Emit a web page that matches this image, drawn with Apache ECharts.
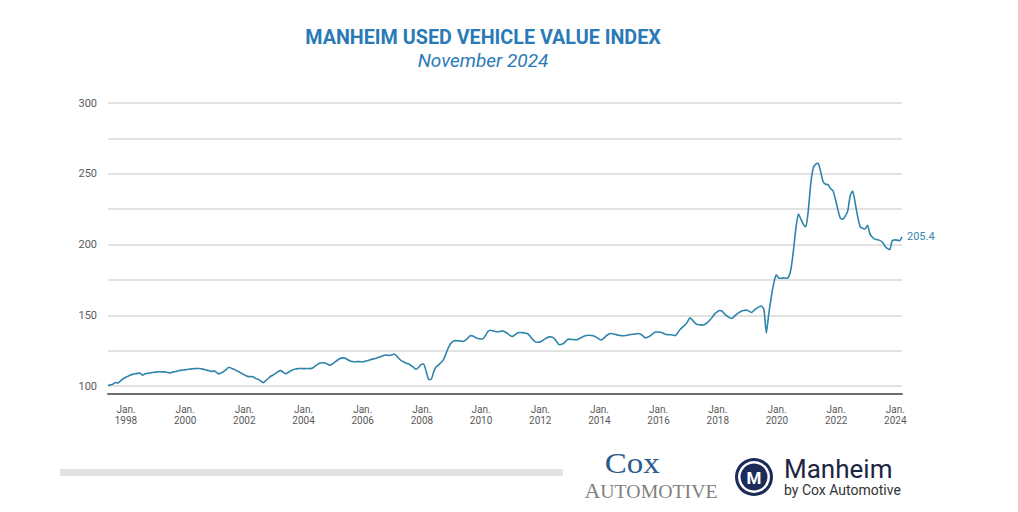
<!DOCTYPE html>
<html><head><meta charset="utf-8">
<script src="https://cdn.jsdelivr.net/npm/echarts@6/dist/echarts.min.js"></script>
<style>html,body{margin:0;padding:0;background:#fff}#c{width:1018px;height:512px}</style>
</head><body><div id="c"></div>
<script>
const startYear = 1998;
const idx1998_2002 = [
  100.4, 100.8, 101.3, 102.5, 102.2, 103.4, 105.1, 106.0, 106.8, 107.7, 108.2, 108.6,
  108.9, 109.1, 107.6, 108.6, 108.9, 109.2, 109.5, 109.7, 110.0, 110.1, 109.9, 110.0,
  109.6, 109.2, 109.7, 110.1, 110.5, 110.9, 111.2, 111.4, 111.7, 111.9, 112.1, 112.3,
  112.4, 112.4, 112.1, 111.7, 111.2, 110.8, 110.2, 110.7, 109.6, 108.5, 109.4, 110.3,
  111.8, 113.3, 112.6, 111.9, 111.0, 110.1, 109.1, 108.2, 107.2, 106.6, 106.7, 106.3
];
const idx2003_2007 = [
  105.2, 104.6, 103.5, 102.4, 103.8, 105.3, 106.9, 107.8, 108.9, 110.2, 110.9, 109.8,
  108.6, 109.5, 110.6, 111.5, 112.0, 112.3, 112.4, 112.3, 112.3, 112.4, 112.3, 112.7,
  114.0, 115.3, 116.3, 116.4, 116.2, 115.5, 114.7, 115.6, 116.9, 118.2, 119.4, 119.9,
  119.7, 118.8, 117.9, 117.3, 117.1, 117.2, 117.2, 117.0, 117.3, 117.9, 118.3, 119.0,
  119.3, 119.8, 120.4, 121.0, 121.7, 121.8, 121.6, 121.9, 122.6, 121.3, 119.4, 117.8
];
const idx2008_2012 = [
  117.0, 116.1, 115.5, 114.3, 113.0, 111.8, 113.3, 115.3, 115.6, 110.5, 104.8, 104.6,
  109.5, 113.4, 114.8, 116.5, 118.5, 122.5, 127.0, 130.0, 131.7, 132.1, 131.9, 131.8,
  131.5, 132.4, 133.9, 135.6, 135.4, 134.3, 133.5, 133.2, 133.2, 135.5, 138.3, 139.4,
  139.0, 138.5, 138.3, 138.6, 139.0, 138.2, 137.2, 135.8, 135.0, 136.1, 137.4, 137.8,
  137.7, 137.5, 137.1, 135.6, 133.4, 131.6, 130.9, 131.0, 131.8, 133.0, 134.1, 134.7
];
const idx2013_2017 = [
  134.6, 133.6, 131.3, 129.2, 129.5, 130.5, 132.3, 133.1, 132.9, 132.8, 132.7, 133.4,
  134.3, 135.1, 135.7, 135.9, 135.7, 135.4, 134.5, 133.3, 132.5, 133.6, 135.4, 136.6,
  137.1, 136.8, 136.3, 135.9, 135.6, 135.5, 135.7, 136.0, 136.4, 136.6, 136.8, 137.1,
  136.6, 135.3, 133.9, 134.6, 135.6, 137.0, 138.1, 138.2, 138.0, 137.4, 136.6, 136.3,
  136.2, 136.1, 135.6, 137.5, 139.9, 141.6, 143.1, 145.3, 148.2, 146.6, 144.6, 143.4
];
const idx2018_2021 = [
  143.3, 143.0, 143.5, 144.8, 146.5, 148.5, 151.0, 152.3, 153.4, 153.0, 151.0, 149.5,
  148.3, 147.8, 149.2, 150.8, 152.0, 153.0, 153.4, 153.7, 152.8, 151.9, 153.5, 154.8,
  155.9, 156.5, 154.2, 137.4, 151.5, 163.0, 172.5, 178.5, 176.3, 176.1, 176.4, 176.2,
  177.0, 183.0, 196.0, 212.0, 221.5, 218.0, 214.2, 212.5, 224.0, 243.0, 254.0, 256.8
];
const idx2022_2024 = [
  257.4, 251.5, 244.5, 242.6, 242.3, 239.6, 238.0, 232.0, 224.5, 218.6, 217.8, 220.0,
  223.8, 234.5, 237.8, 229.5, 220.0, 212.6, 211.5, 211.0, 213.6, 207.5, 205.1, 203.8,
  203.4, 202.9, 201.8, 199.0, 197.2, 196.3, 202.5, 203.3, 203.1, 202.7, 205.4
];
const yLabelStep = 50;
const titleText = 'MANHEIM USED VEHICLE VALUE INDEX';
const subtitleText = 'November 2024';

const values = [].concat(idx1998_2002, idx2003_2007, idx2008_2012, idx2013_2017, idx2018_2021, idx2022_2024);
const categories = values.map((_, i) => (startYear + Math.floor(i / 12)) + '-' + String(i % 12 + 1).padStart(2, '0'));

const chart = echarts.init(document.getElementById('c'), null, {renderer: 'svg'});
chart.setOption({
  animation: false,
  backgroundColor: '#fff',
  grid: {left: 108, right: 116, top: 103, bottom: 126},
  xAxis: {
    type: 'category', data: categories, boundaryGap: false, offset: 8,
    axisLine: {onZero: false, lineStyle: {color: '#6e6e6e', width: 2}},
    axisTick: {show: false},
    splitLine: {show: false},
    axisLabel: {
      interval: (i, v) => v.endsWith('-01') && (+v.slice(0, 4)) % 2 === 0,
      formatter: v => 'Jan.\n' + v.slice(0, 4),
      color: '#5a5a5a', fontSize: 10, lineHeight: 11, margin: 10,
      fontFamily: 'Roboto', padding: [0, 0, 0, 36]
    }
  },
  yAxis: {
    type: 'value', min: 100, max: 300, interval: 25,
    axisLine: {show: false}, axisTick: {show: false},
    splitLine: {lineStyle: {color: '#d9d9d9', width: 1.5}},
    axisLabel: {formatter: v => (v % yLabelStep === 0 ? String(v) : ''), color: '#5a5a5a', fontSize: 11, margin: 11, fontFamily: 'Roboto'}
  },
  series: [{
    type: 'line', data: values, showSymbol: false, smooth: 0.2,
    lineStyle: {color: '#2f84ac', width: 1.6},
    itemStyle: {color: '#2f84ac'},
    endLabel: {show: true, formatter: p => Number(p.value).toFixed(1), color: '#3a86ad', fontSize: 11, fontFamily: 'Roboto', distance: 5}
  }],
  graphic: [
    {type: 'text', x: 483, y: 37, scaleX: 0.94, style: {text: titleText, font: 'bold 21px Roboto', fill: '#2a7ab8', textAlign: 'center', textVerticalAlign: 'middle'}},
    {type: 'text', x: 483, y: 60, style: {text: subtitleText, font: 'italic 19px Roboto', fill: '#2a7ab8', textAlign: 'center', textVerticalAlign: 'middle'}},
    {type: 'rect', shape: {x: 60, y: 469, width: 503, height: 7}, style: {fill: '#e2e2e2'}},
    {type: 'text', x: 651, y: 446, scaleX: 1.1, style: {
      text: '{a|Cox}{s| }\n{b|A}{c|UTOMOTIVE}', textAlign: 'center', textVerticalAlign: 'top',
      rich: {
        a: {fontFamily: 'Liberation Serif', fontSize: 30, lineHeight: 34, fill: '#2d5b8e', color: '#2d5b8e'},
        s: {fontSize: 10, width: 34, lineHeight: 34},
        b: {fontFamily: 'Liberation Serif', fontSize: 20, lineHeight: 23, fill: '#808080', color: '#808080'},
        c: {fontFamily: 'Liberation Serif', fontSize: 18, lineHeight: 23, fill: '#808080', color: '#808080'}
      }
    }},
    {type: 'circle', shape: {cx: 754, cy: 477, r: 19}, style: {fill: '#1c2b5a'}},
    {type: 'circle', shape: {cx: 754, cy: 477, r: 16}, style: {fill: '#ffffff'}},
    {type: 'circle', shape: {cx: 754, cy: 477, r: 13.5}, style: {fill: '#1c2b5a'}},
    {type: 'text', x: 754, y: 478, style: {text: 'M', font: 'bold 17px Roboto', fill: '#ffffff', textAlign: 'center', textVerticalAlign: 'middle'}},
    {type: 'text', x: 784, y: 455, style: {
      text: '{a|Manheim}\n{b|by Cox Automotive}', textAlign: 'left', textVerticalAlign: 'top',
      rich: {
        a: {fontFamily: 'Roboto', fontSize: 26, lineHeight: 27, fill: '#1d2542', color: '#1d2542'},
        b: {fontFamily: 'Roboto', fontSize: 14, lineHeight: 16, fill: '#333333', color: '#333333'}
      }
    }}
  ]
});
</script></body></html>
